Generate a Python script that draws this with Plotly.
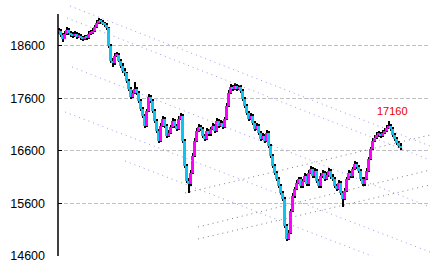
import plotly.graph_objects as go

# ---- data ----
close = [18885, 18810, 18735, 18830, 18905, 18845, 18810, 18790, 18830, 18770,
         18790, 18750, 18735, 18770, 18750, 18830, 18845, 18885, 18960, 19035,
         19075, 19055, 19020, 19000, 18940, 18600, 18315, 18275, 18410, 18430,
         18315, 18220, 18125, 18070, 17935, 17780, 17630, 17705, 17780, 17705,
         17555, 17400, 17270, 17080, 17365, 17630, 17555, 17365, 17175, 16985,
         16795, 17080, 17210, 17080, 16890, 16945, 17060, 17175, 17080, 17020,
         17210, 17270, 16795, 16320, 16030, 15975, 16185, 16510, 16795, 16985,
         17060, 17020, 16890, 16830, 16985, 16925, 17020, 17080, 16985, 17175,
         17080, 17135, 17060, 17210, 17460, 17705, 17820, 17780, 17840, 17780,
         17820, 17745, 17590, 17460, 17325, 17210, 17270, 17135, 17020, 17080,
         16945, 16830, 16890, 16795, 16945, 16700, 16510, 16320, 16185, 16070,
         15935, 15805, 15690, 15175, 14930, 15045, 15460, 15745, 15880, 15995,
         16070, 15935, 16030, 16125, 15975, 16185, 16260, 16125, 16225, 16030,
         15935, 16125, 16185, 16070, 16145, 16225, 16110, 16070, 15935, 15880,
         15995, 15805, 15690, 15845, 16070, 16185, 16125, 16260, 16355, 16300,
         16225, 16070, 15975, 16070, 16225, 16450, 16640, 16795, 16850, 16910,
         16925, 16890, 16945, 16985, 17040, 17080, 17020, 16910, 16830, 16755,
         16700, 16660]
high = [18930, 18910, 18840, 18870, 18950, 18930, 18880, 18850, 18880, 18860,
        18840, 18820, 18790, 18810, 18800, 18870, 18890, 18930, 19000, 19080,
        19120, 19110, 19080, 19050, 19030, 18960, 18640, 18360, 18460, 18480,
        18460, 18350, 18260, 18170, 18100, 17970, 17810, 17750, 17900, 17820,
        17740, 17590, 17430, 17300, 17400, 17680, 17660, 17590, 17400, 17210,
        17020, 17120, 17260, 17240, 17110, 16990, 17100, 17220, 17210, 17110,
        17260, 17320, 17300, 16830, 16350, 16080, 16230, 16550, 16840, 17030,
        17110, 17100, 17050, 16920, 17030, 17020, 17060, 17130, 17110, 17230,
        17210, 17180, 17170, 17250, 17500, 17750, 17870, 17850, 17890, 17870,
        17860, 17850, 17770, 17620, 17490, 17360, 17310, 17300, 17170, 17120,
        17110, 16980, 16930, 16920, 16990, 16970, 16730, 16540, 16350, 16220,
        16100, 15970, 15840, 15720, 15210, 15090, 15500, 15790, 15920, 16040,
        16110, 16100, 16070, 16170, 16160, 16230, 16310, 16290, 16270, 16260,
        16070, 16170, 16230, 16220, 16190, 16270, 16260, 16150, 16100, 15970,
        16040, 16030, 15840, 15890, 16110, 16230, 16220, 16300, 16400, 16390,
        16330, 16260, 16100, 16110, 16270, 16490, 16680, 16840, 16900, 16950,
        16970, 16960, 16990, 17030, 17090, 17160, 17110, 17050, 16940, 16860,
        16790, 16740]
low = [18820, 18770, 18660, 18720, 18800, 18810, 18770, 18750, 18760, 18720,
       18740, 18700, 18690, 18700, 18710, 18720, 18800, 18820, 18860, 18940,
       19010, 19020, 18990, 18960, 18900, 18560, 18260, 18200, 18240, 18380,
       18280, 18170, 18080, 18020, 17890, 17730, 17580, 17600, 17680, 17660,
       17510, 17350, 17220, 17030, 17050, 17340, 17510, 17320, 17130, 16940,
       16740, 16770, 17050, 17040, 16840, 16860, 16920, 17030, 17040, 16980,
       16990, 17180, 16750, 16270, 15980, 15800, 15940, 16150, 16480, 16760,
       16950, 16980, 16840, 16780, 16800, 16880, 16890, 16990, 16940, 16950,
       17040, 17050, 17020, 17030, 17180, 17430, 17680, 17740, 17750, 17740,
       17750, 17700, 17550, 17420, 17280, 17170, 17180, 17090, 16980, 16990,
       16900, 16790, 16800, 16750, 16770, 16660, 16470, 16280, 16140, 16030,
       15890, 15760, 15650, 15130, 14880, 14900, 15010, 15430, 15710, 15850,
       15960, 15890, 15900, 16000, 15930, 15940, 16150, 16080, 16090, 15990,
       15890, 15900, 16090, 16030, 16040, 16110, 16070, 16030, 15890, 15840,
       15850, 15760, 15540, 15660, 15810, 16040, 16080, 16090, 16230, 16260,
       16180, 16030, 15930, 15940, 16040, 16190, 16420, 16610, 16760, 16820,
       16870, 16850, 16860, 16920, 16960, 17010, 16980, 16870, 16790, 16710,
       16660, 16620]
first_open = 18860
label_value = 17160

y_ticks = [14600, 15600, 16600, 17600, 18600]

# trend lines: (x0, y0, x1, y1) in bar-index / price units
down_x0 = [5.75, 4.25, 6.75, 3.25, 33.25]
down_y0 = [19353, 19125, 18193, 17338, 16406]
down_x1 = [185.75, 185.75, 185.75, 185.75, 168.25]
down_y1 = [16691, 16425, 15532, 14676, 14429]
up_x0 = [63.25, 69.75, 69.75]
up_y0 = [15798, 15151, 14923]
up_x1 = [185.75, 185.75, 185.75]
up_y1 = [16900, 16235, 15950]

# ---- figure ----
n = len(close)
idx = list(range(n))
opens = [first_open] + close[:-1]

fig = go.Figure()

# trend lines
for x0, y0, x1, y1 in zip(down_x0, down_y0, down_x1, down_y1):
    fig.add_trace(go.Scatter(x=[x0, x1], y=[y0, y1], mode="lines",
                             line=dict(color="#9a9af0", width=1, dash="1px,4px"),
                             hoverinfo="skip", showlegend=False))
for x0, y0, x1, y1 in zip(up_x0, up_y0, up_x1, up_y1):
    fig.add_trace(go.Scatter(x=[x0, x1], y=[y0, y1], mode="lines",
                             line=dict(color="#808080", width=1, dash="1px,4px"),
                             hoverinfo="skip", showlegend=False))

# wicks (thin bars, drawn below bodies)
fig.add_trace(go.Bar(x=idx, y=[h - l for h, l in zip(high, low)], base=low,
                     width=0.6, offset=0.1,
                     marker=dict(color="black", line=dict(width=0)),
                     hoverinfo="skip", showlegend=False))

# bodies
base = [min(o, c) for o, c in zip(opens, close)]
size = [max(abs(c - o), 20) for o, c in zip(opens, close)]
colors = ["#ff00ff" if c >= o else "#10c4f2" for o, c in zip(opens, close)]
fig.add_trace(go.Bar(x=idx, y=size, base=base, width=1.4,
                     marker=dict(color=colors, line=dict(width=0)),
                     hoverinfo="skip", showlegend=False))

# y axis line
fig.add_shape(type="line", xref="paper", yref="y", x0=0, x1=0,
              y0=14600, y1=19200, line=dict(color="black", width=1.5))

# peak label
pk = high.index(label_value)
fig.add_annotation(x=pk, y=high[pk], text=str(label_value), showarrow=False,
                   yshift=10, xshift=4,
                   font=dict(family="Liberation Sans, Arial, sans-serif", size=11,
                             color="#e80000"))

fig.update_layout(
    width=434, height=269,
    margin=dict(l=58, r=4, t=0, b=13),
    paper_bgcolor="white", plot_bgcolor="white",
    barmode="overlay", bargap=0,
    showlegend=False,
    xaxis=dict(range=[-0.25, 185.75], visible=False, fixedrange=True),
    yaxis=dict(range=[14600, 19467], tickvals=y_ticks,
               ticktext=[str(v) for v in y_ticks],
               showgrid=True, gridcolor="#c0c0c0", griddash="4px,2px",
               gridwidth=1, zeroline=False, showline=False,
               ticks="inside", ticklen=4, tickcolor="black", tickwidth=1,
               ticklabelstandoff=12,
               tickfont=dict(family="Liberation Sans Narrow, Liberation Sans, Arial, sans-serif",
                             size=12.5, color="black")),
)

fig.write_html("out.html")
